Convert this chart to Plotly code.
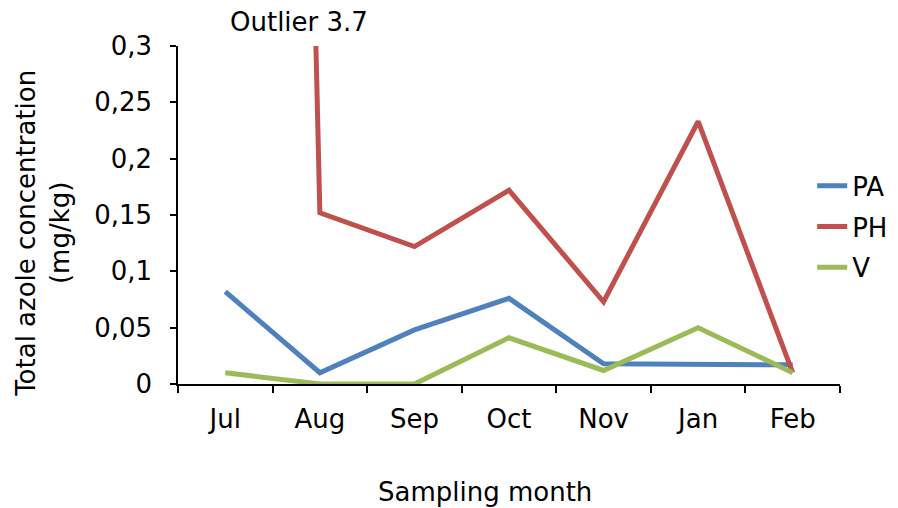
import plotly.graph_objects as go

months = ["Jul", "Aug", "Sep", "Oct", "Nov", "Jan", "Feb"]
pa = [0.082, 0.010, 0.048, 0.076, 0.018, 0.018, 0.017]
ph = [3.7, 0.152, 0.122, 0.172, 0.073, 0.233, 0.010]
v = [0.010, 0.000, 0.000, 0.041, 0.012, 0.050, 0.010]
y_ticks = [0, 0.05, 0.1, 0.15, 0.2, 0.25, 0.3]
y_tick_text = ["0", "0,05", "0,1", "0,15", "0,2", "0,25", "0,3"]

FONT = "Verdana, DejaVu Sans, sans-serif"
FS = 26

fig = go.Figure()
for name, vals, col in [("PA", pa, "#4F81BD"), ("PH", ph, "#C0504D"), ("V", v, "#9BBB59")]:
    fig.add_trace(go.Scatter(x=months, y=vals, name=name, mode="lines",
                             legendgroup=name,
                             line=dict(color=col, width=5)))

fig.update_layout(
    width=890, height=500,
    margin=dict(l=170, r=58, t=38, b=124, autoexpand=False),
    paper_bgcolor="white", plot_bgcolor="white",
    font=dict(family=FONT, size=FS, color="black"),
    showlegend=True,
    legend=dict(x=0.958, y=0.465, xanchor="left", yanchor="middle",
                tracegroupgap=4, font=dict(size=FS),
                bgcolor="rgba(0,0,0,0)"),
    xaxis=dict(type="category", range=[-0.5, 6.5], showline=True, linecolor="black",
               linewidth=1.5, ticks="outside", tickson="boundaries", ticklen=7,
               tickcolor="black", tickwidth=1.5, showgrid=False, zeroline=False,
               tickfont=dict(size=FS), ticklabelstandoff=11, automargin=False),
    yaxis=dict(range=[0, 0.3], showline=True, linecolor="black", linewidth=1.5,
               ticks="outside", ticklen=6, tickcolor="black", tickwidth=1.5,
               tickvals=y_ticks, ticktext=y_tick_text,
               showgrid=False, zeroline=False, tickfont=dict(size=FS),
               ticklabelstandoff=13, automargin=False),
)
fig.add_annotation(text="Outlier 3.7", x=0.183, y=1, xref="paper", yref="paper",
                   yanchor="middle", xanchor="center", yshift=24, borderpad=0,
                   showarrow=False, font=dict(size=FS))
fig.add_annotation(text="Sampling month", x=0.4637, y=0, xref="paper", yref="paper",
                   yanchor="middle", xanchor="center", yshift=-108,
                   showarrow=False, font=dict(size=FS))
fig.add_annotation(text="Total azole concentration<br>(mg/kg)", x=-0.204, y=0.447,
                   xref="paper", yref="paper", textangle=-90,
                   yanchor="middle", xanchor="center",
                   showarrow=False, font=dict(size=FS))

fig.write_html("out.html")
